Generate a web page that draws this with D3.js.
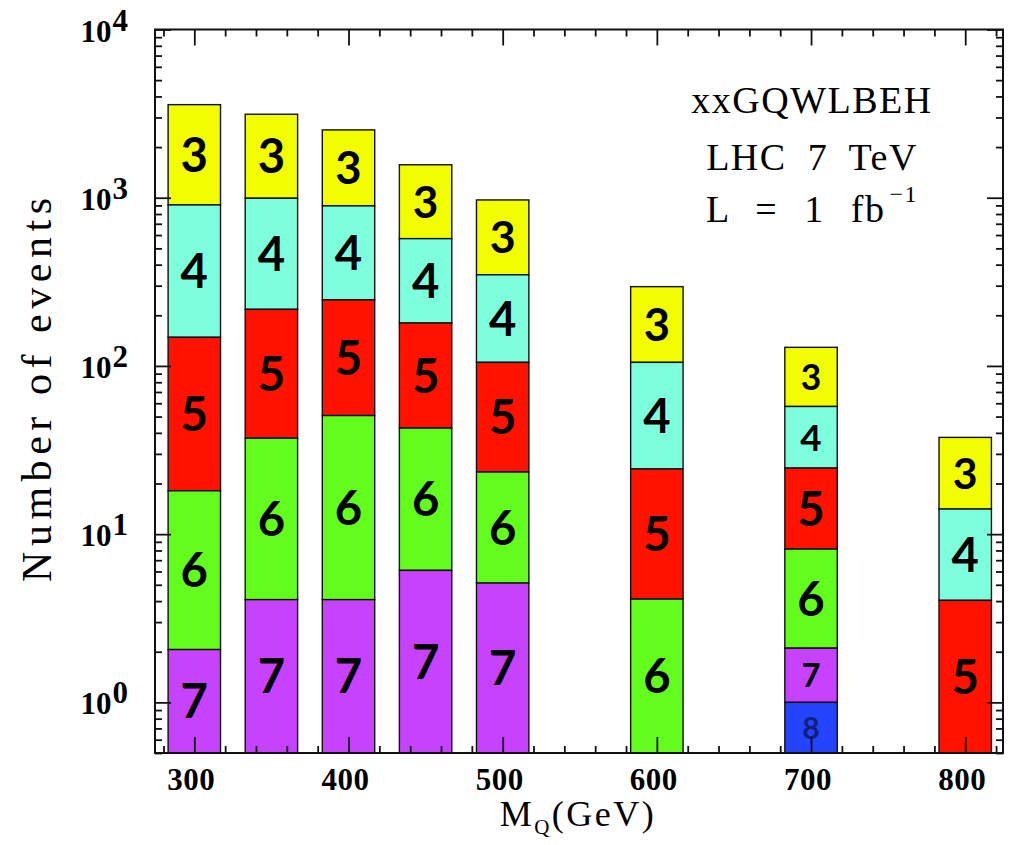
<!DOCTYPE html>
<html>
<head>
<meta charset="utf-8">
<script src="https://cdn.jsdelivr.net/npm/d3@7"></script>
<style>
  html, body { margin: 0; padding: 0; background: #fff; }
  svg { display: block; }
</style>
</head>
<body>
<svg id="chart" width="1011" height="845"></svg>
<script>
// Heavy-quark mass points (GeV)
const masses = [300, 350, 400, 450, 500, 600, 700, 800];
// Multiplicity classes shown as stacked segments, top to bottom
const multiplicities = [3, 4, 5, 6, 7, 8];
// Number of events with multiplicity >= n (0 = none)
const atLeast3 = [3575, 3135, 2530, 1570, 970, 296, 129, 37.6];
const atLeast4 = [906, 993, 894, 571, 348, 105, 57.4, 14.1];
const atLeast5 = [148, 217, 247, 180, 105, 24.4, 24.7, 4.04];
const atLeast6 = [18.1, 37.2, 50.7, 42.7, 23.4, 4.11, 8.15, 0];
const atLeast7 = [2.06, 4.08, 4.08, 6.09, 5.12, 0, 2.10, 0];
const atLeast8 = [0, 0, 0, 0, 0, 0, 1.0, 0];
// Axis ticks
const xMajorTicks = [300, 400, 500, 600, 700, 800];
const yMajorExponents = [0, 1, 2, 3, 4];
// Annotation lines
const infoLines = ["xxGQWLBEH", "LHC 7 TeV", "L = 1 fb"];
const lumiExponent = "\u22121";

const cumulative = [atLeast3, atLeast4, atLeast5, atLeast6, atLeast7, atLeast8];
const segColors = {3: "#f2fd00", 4: "#7dfedc", 5: "#ff1200", 6: "#62fd1c", 7: "#c642fd", 8: "#2443fd"};

const svg = d3.select("#chart");
const pLeft = 155, pRight = 1003, pTop = 29.5, pBottom = 753;

const x = d3.scaleLinear().domain([274.5, 824.5]).range([pLeft, pRight]);
const y = d3.scaleLog().domain([0.5, 1e4]).range([pBottom, pTop]);
const halfWidth = 17; // GeV

// Build segments
const segments = [];
masses.forEach((m, i) => {
  multiplicities.forEach((n, k) => {
    const hi = cumulative[k][i];
    const lo = k + 1 < cumulative.length ? cumulative[k + 1][i] : 0;
    if (hi > 0 && hi > lo) segments.push({m, n, hi, lo});
  });
});
segments.forEach(d => {
  d.y0 = d.lo > 0 ? y(d.lo) : pBottom;
  d.y1 = y(d.hi);
  d.digit = Math.max(17, Math.min(34, (d.y0 - d.y1) * 0.43));
});

const plot = svg.append("g");

plot.selectAll("rect.seg")
  .data(segments)
  .join("rect")
  .attr("class", "seg")
  .attr("x", d => x(d.m - halfWidth))
  .attr("width", d => x(d.m + halfWidth) - x(d.m - halfWidth))
  .attr("y", d => d.y1)
  .attr("height", d => d.y0 - d.y1)
  .attr("fill", d => segColors[d.n])
  .attr("stroke", "#111")
  .attr("stroke-width", 1.4);

// Multiplicity labels, sized to fit their segment
plot.selectAll("text.seglab")
  .data(segments)
  .join("text")
  .attr("class", "seglab")
  .attr("x", d => x(d.m))
  .attr("y", d => (d.y0 + d.y1) / 2 + d.digit / 2)
  .attr("text-anchor", "middle")
  .attr("font-family", "Lato, 'Liberation Sans', sans-serif")
  .attr("font-weight", "bold")
  .attr("font-size", d => d.digit / 0.72)
  .attr("fill", d => d.n === 8 ? "#10207a" : "#000")
  .text(d => d.n);

// Ticks on all four sides, pointing inward
const xMinor = d3.range(280, 821, 20).filter(v => !xMajorTicks.includes(v));
const yMinor = [];
for (let e = -1; e < 4; e++) for (let j = 2; j <= 9; j++) {
  const v = j * Math.pow(10, e);
  if (v >= 0.5 && v <= 1e4) yMinor.push(v);
}
const yMajor = yMajorExponents.map(e => Math.pow(10, e));
const major = 16, minor = 7;

function styleAxis(g) {
  g.select(".domain").remove();
  g.selectAll(".tick line").attr("stroke", "#111").attr("stroke-width", 1.8);
  g.selectAll(".tick text").remove();
}

svg.append("g").attr("transform", `translate(0,${pBottom})`)
  .call(d3.axisBottom(x).tickValues(xMajorTicks).tickSize(-major)).call(styleAxis);
svg.append("g").attr("transform", `translate(0,${pBottom})`)
  .call(d3.axisBottom(x).tickValues(xMinor).tickSize(-minor)).call(styleAxis);
svg.append("g").attr("transform", `translate(0,${pTop})`)
  .call(d3.axisTop(x).tickValues(xMajorTicks).tickSize(-major)).call(styleAxis);
svg.append("g").attr("transform", `translate(0,${pTop})`)
  .call(d3.axisTop(x).tickValues(xMinor).tickSize(-minor)).call(styleAxis);
svg.append("g").attr("transform", `translate(${pLeft},0)`)
  .call(d3.axisLeft(y).tickValues(yMajor).tickSize(-major)).call(styleAxis);
svg.append("g").attr("transform", `translate(${pLeft},0)`)
  .call(d3.axisLeft(y).tickValues(yMinor).tickSize(-minor)).call(styleAxis);
svg.append("g").attr("transform", `translate(${pRight},0)`)
  .call(d3.axisRight(y).tickValues(yMajor).tickSize(-major)).call(styleAxis);
svg.append("g").attr("transform", `translate(${pRight},0)`)
  .call(d3.axisRight(y).tickValues(yMinor).tickSize(-minor)).call(styleAxis);

// Frame
svg.append("rect")
  .attr("x", pLeft).attr("y", pTop)
  .attr("width", pRight - pLeft).attr("height", pBottom - pTop)
  .attr("fill", "none").attr("stroke", "#111").attr("stroke-width", 2);

// Tick labels
const serif = "'Liberation Serif', 'Times New Roman', serif";
svg.append("g").selectAll("text")
  .data(xMajorTicks)
  .join("text")
  .attr("x", d => x(d) - 3)
  .attr("y", 790)
  .attr("text-anchor", "middle")
  .attr("font-family", serif)
  .attr("font-weight", "bold")
  .attr("font-size", 31)
  .attr("letter-spacing", 0.5)
  .text(d => d);

const yl = svg.append("g").selectAll("text")
  .data(yMajorExponents)
  .join("text")
  .attr("x", 128)
  .attr("y", e => y(Math.pow(10, e)) + 12)
  .attr("text-anchor", "end")
  .attr("font-family", serif)
  .attr("font-weight", "bold")
  .attr("font-size", 31);
yl.append("tspan").text("10");
yl.append("tspan").attr("dx", 1).attr("dy", -11).text(e => e);

// Axis titles
svg.append("text")
  .attr("transform", "translate(51,390) rotate(-90)")
  .attr("text-anchor", "middle")
  .attr("font-family", serif)
  .attr("font-size", 42)
  .attr("textLength", 384)
  .attr("lengthAdjust", "spacing")
  .text("Number of events");

const xt = svg.append("text")
  .attr("x", 578).attr("y", 826)
  .attr("text-anchor", "middle")
  .attr("font-family", serif)
  .attr("font-size", 36)
  .attr("letter-spacing", 2.5);
xt.append("tspan").text("M");
xt.append("tspan").attr("font-size", 21).attr("dy", 8).text("Q");
xt.append("tspan").attr("dy", -8).text("(GeV)");

// Annotation block
const info = svg.append("g")
  .attr("font-family", serif)
  .attr("font-size", 38)
  .attr("letter-spacing", 1.5)
  .attr("text-anchor", "middle");
const baselines = [113, 170, 222];
const wordGaps = [10, 10, 15];
infoLines.forEach((t, i) => {
  const tx = info.append("text").attr("x", 812).attr("y", baselines[i])
    .attr("word-spacing", wordGaps[i]);
  tx.append("tspan").text(t);
  if (i === 2) tx.append("tspan").attr("font-size", 24).attr("dx", 4).attr("dy", -20).text(lumiExponent);
});
</script>
</body>
</html>
